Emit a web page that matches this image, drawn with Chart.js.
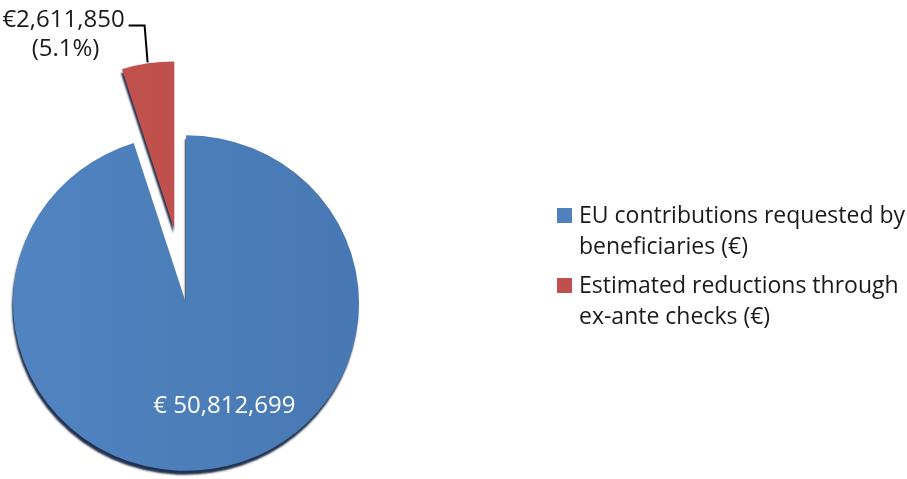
<!DOCTYPE html>
<html>
<head>
<meta charset="utf-8">
<script src="https://cdn.jsdelivr.net/npm/chart.js@4.4.1/dist/chart.umd.min.js"></script>
<style>
  html, body { margin: 0; padding: 0; background: #fff; }
  #wrap { width: 907px; height: 479px; position: relative; }
</style>
</head>
<body>
<div id="wrap"><canvas id="pieChart"></canvas></div>
<script>
// данные
const categories = [
    ['EU contributions requested by', 'beneficiaries (€)'],
    ['Estimated reductions through', 'ex-ante checks (€)']
];
const amounts = [50812699, 2611850];
const sliceColors = ['#4F81BD', '#C0504D'];
const sliceOffsets = [0, 77]; // выдвижение сектора, px

const FONT = '"Open Sans", sans-serif';
const TILT = 0.97; // лёгкий наклон круга (сжатие по вертикали)

function fmt(v) {
    return v.toLocaleString('en-US');
}

// сдвигаем центр выдвинутых секторов вдоль их биссектрисы
const explode = {
    id: 'explode',
    afterDatasetUpdate(chart) {
        chart.getDatasetMeta(0).data.forEach((arc, i) => {
            const off = sliceOffsets[i] || 0;
            if (!off) return;
            const mid = (arc.startAngle + arc.endAngle) / 2;
            arc.x += Math.cos(mid) * off;
            arc.y += Math.sin(mid) * off;
        });
    }
};

function centerY(chart) {
    return (chart.chartArea.top + chart.chartArea.bottom) / 2;
}
function tiltY(chart, y) {
    const cy = centerY(chart);
    return cy + (y - cy) * TILT;
}

// наклон + тень под секторами (эффект "объёма")
const depthPlugin = {
    id: 'depth',
    beforeDatasetDraw(chart) {
        const ctx = chart.ctx;
        const cy = centerY(chart);
        ctx.save();
        ctx.translate(0, cy);
        ctx.scale(1, TILT);
        ctx.translate(0, -cy);
        ctx.shadowColor = 'rgba(20, 36, 66, 0.95)';
        ctx.shadowBlur = 2;
        ctx.shadowOffsetX = -1;
        ctx.shadowOffsetY = 4;
    },
    afterDatasetDraw(chart) {
        chart.ctx.restore();
    }
};

// подписи значений
const valueLabels = {
    id: 'valueLabels',
    afterDatasetsDraw(chart) {
        const ctx = chart.ctx;
        const arcs = chart.getDatasetMeta(0).data;
        const vals = chart.data.datasets[0].data;
        ctx.save();

        // большой сектор: подпись внутри
        const a0 = arcs[0];
        const mid0 = (a0.startAngle + a0.endAngle) / 2;
        const r0 = a0.outerRadius * 0.62;
        ctx.font = '24px ' + FONT;
        ctx.fillStyle = '#ffffff';
        ctx.textAlign = 'center';
        ctx.textBaseline = 'middle';
        ctx.fillText('€ ' + fmt(vals[0]),
            a0.x + Math.cos(mid0) * r0 + 22,
            tiltY(chart, a0.y + Math.sin(mid0) * r0));

        // малый сектор: подпись снаружи с выноской
        const a1 = arcs[1];
        const mid1 = (a1.startAngle + a1.endAngle) / 2;
        const px = a1.x + Math.cos(mid1) * (a1.outerRadius + 1);
        const py = tiltY(chart, a1.y + Math.sin(mid1) * (a1.outerRadius + 1));
        const elbowX = px - 3, elbowY = py - 37;
        const startX = elbowX - 16;

        ctx.strokeStyle = '#000';
        ctx.lineWidth = 2;
        ctx.beginPath();
        ctx.moveTo(startX, elbowY);
        ctx.lineTo(elbowX, elbowY);
        ctx.lineTo(px, py);
        ctx.stroke();

        const pct = (vals[1] / vals[0] * 100).toFixed(1) + '%';
        const line1 = '€' + fmt(vals[1]);
        ctx.font = '24px ' + FONT;
        ctx.fillStyle = '#1a1a1a';
        ctx.textBaseline = 'alphabetic';
        const w1 = ctx.measureText(line1).width;
        const right = startX - 4;
        ctx.textAlign = 'right';
        ctx.fillText(line1, right, elbowY + 2);
        ctx.textAlign = 'center';
        ctx.fillText('(' + pct + ')', right - w1 / 2 + 2, elbowY + 31);
        ctx.restore();
    }
};

// легенда справа
const sideLegend = {
    id: 'sideLegend',
    afterDraw(chart) {
        const ctx = chart.ctx;
        const x0 = 557;
        const tops = [208, 278];
        ctx.save();
        ctx.font = '23px ' + FONT;
        ctx.textAlign = 'left';
        ctx.textBaseline = 'alphabetic';
        chart.data.labels.forEach((lines, i) => {
            ctx.fillStyle = sliceColors[i];
            ctx.fillRect(x0, tops[i], 15, 15);
            ctx.fillStyle = '#1a1a1a';
            lines.forEach((t, j) => {
                ctx.fillText(t, x0 + 22, tops[i] + 15 + j * 31);
            });
        });
        ctx.restore();
    }
};

function sliceFill(context) {
    const chart = context.chart;
    const i = context.dataIndex;
    const area = chart.chartArea;
    if (!area) return sliceColors[i];
    const g = chart.ctx.createLinearGradient(area.left, 0, area.right, 0);
    if (i === 0) {
        g.addColorStop(0, '#5184C1');
        g.addColorStop(1, '#4778B3');
    } else {
        g.addColorStop(0, '#C4534F');
        g.addColorStop(1, '#BA4D4A');
    }
    return g;
}

const ctx = document.getElementById('pieChart').getContext('2d');
const pieChart = new Chart(ctx, {
    type: 'pie',
    data: {
        labels: categories,
        datasets: [{
            data: amounts,
            backgroundColor: sliceFill,
            borderWidth: 0,
            clip: false
        }]
    },
    options: {
        responsive: true,
        maintainAspectRatio: false,
        animation: false,
        radius: 173,
        layout: {
            padding: { left: 0, right: 535, top: 127, bottom: 0 }
        },
        plugins: {
            legend: { display: false },
            tooltip: { enabled: false }
        }
    },
    plugins: [explode, depthPlugin, valueLabels, sideLegend]
});
</script>
</body>
</html>
